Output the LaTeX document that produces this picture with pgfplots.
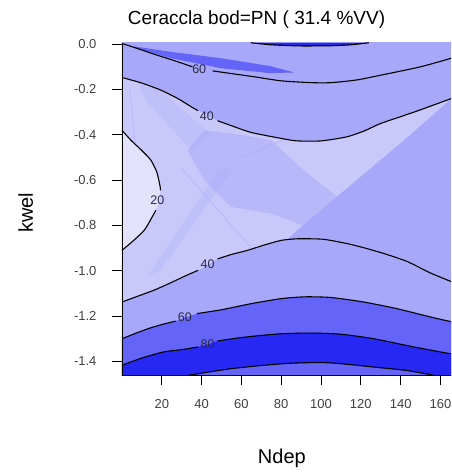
\documentclass[border=0pt]{standalone}
\usepackage{fontspec}
\setmainfont{Liberation Sans}
\usepackage{pgfplots}
\pgfplotsset{compat=1.18}

% fill colours of the contour bands
\definecolor{bandA}{RGB}{226,226,252} % < 20
\definecolor{bandB}{RGB}{200,200,250} % 20-40
\definecolor{bandC}{RGB}{168,168,250} % 40-60
\definecolor{bandD}{RGB}{100,100,248} % 60-80
\definecolor{bandE}{RGB}{40,40,245}   % 80-100
\definecolor{lblcol}{RGB}{40,40,70}

\begin{document}
\begin{tikzpicture}
\useasboundingbox (-122pt,-98pt) rectangle (329pt,375pt);
\begin{axis}[
  at={(0,0)}, anchor=south west,
  scale only axis, width=329pt, height=332pt,
  xmin=0, xmax=165.3, ymin=-1.46, ymax=0.005,
  enlargelimits=false,
  axis on top,
  axis x line*=bottom, axis y line*=left,
  axis line style={line width=0.8pt, black},
  tick align=outside, major tick length=10pt,
  tick style={line width=0.8pt, black},
  xtick={20,40,60,80,100,120,140,160},
  ytick={0,-0.2,-0.4,-0.6,-0.8,-1.0,-1.2,-1.4},
  /pgf/number format/assume math mode=true,
  yticklabel style={/pgf/number format/fixed, /pgf/number format/fixed zerofill, /pgf/number format/precision=1, xshift=-12pt},
  xticklabel style={yshift=-11pt},
  tick label style={font=\fontsize{13}{15}\selectfont, text=black!75},
  title={Ceraccla bod=PN ( 31.4 \%VV)},
  title style={font=\fontsize{19}{22}\selectfont, at={(axis description cs:0.409,1)}, anchor=base, yshift=12pt},
  xlabel={Ndep},
  xlabel style={font=\fontsize{20}{24}\selectfont, at={(axis description cs:0.486,0)}, anchor=base, yshift=-88pt},
  ylabel={kwel},
  ylabel style={font=\fontsize{20}{24}\selectfont, at={(axis description cs:0,0.489)}, anchor=base, yshift=89pt},
  contour line/.style={black, line width=1.1pt, smooth, tension=0.4},
]
% background band 40-60
\addplot[draw=none, fill=bandC] coordinates {(0,0.01) (166,0.01) (166,-1.47) (0,-1.47)} \closedcycle;

% band 20-40 (left part between the two 40 isolines)
\addplot[draw=none, fill=bandB] coordinates {
 (0,-0.147) (10,-0.172) (19.5,-0.203) (28,-0.24) (36,-0.283) (42,-0.31) (48,-0.338)
 (55,-0.36) (65,-0.39) (80,-0.416) (88,-0.427) (100,-0.427) (113,-0.409) (122,-0.382)
 (130,-0.35) (147,-0.299) (165.5,-0.24)
 (141.6,-0.424) (89.8,-0.807) (83,-0.862)
 (80,-0.866) (72,-0.885) (63,-0.91) (55,-0.928) (48,-0.948) (43,-0.976) (38.3,-0.998)
 (32,-1.022) (24,-1.055) (16,-1.086) (8,-1.112) (0,-1.138)} -- cycle;

% streaks inside the 20-40 band
\addplot[draw=none, fill=bandC, fill opacity=0.5] coordinates {
 (41.3,-0.38) (60,-0.40) (74.8,-0.424) (93.2,-0.571) (108.3,-0.674) (93.2,-0.807)
 (74.8,-0.747) (54.7,-0.718) (41.3,-0.60) (32.9,-0.468)} -- cycle;
\addplot[draw=none, fill=bandC, fill opacity=0.25] coordinates {
 (8,-0.17) (20,-0.21) (45,-0.40) (35,-0.47) (12,-0.25)} -- cycle;
\addplot[draw=none, fill=bandC, fill opacity=0.25] coordinates {
 (13,-1.02) (19,-1.0) (56,-0.55) (49,-0.55)} -- cycle;
\addplot[bandC, line width=0.8pt, opacity=0.5] coordinates {(4,-0.2) (10,-0.75)};
\addplot[bandC, line width=0.8pt, opacity=0.5] coordinates {(30,-0.55) (70,-0.95)};
\addplot[bandC, line width=0.8pt, opacity=0.5] coordinates {(60,-0.5) (95,-0.37)};

% band below 20
\addplot[draw=none, fill=bandA] coordinates {
 (0,-0.38) (4.5,-0.424) (10,-0.47) (14.5,-0.512) (17.5,-0.565) (19.2,-0.63) (19,-0.69)
 (17,-0.733) (15,-0.765) (11.3,-0.82) (6,-0.865) (0,-0.91)} -- cycle;

% bands 60-80 and above 100 at the bottom
\addplot[draw=none, fill=bandD] coordinates {
 (0,-1.30) (8,-1.272) (15,-1.25) (21,-1.235) (27,-1.222) (31.6,-1.207) (37.6,-1.189)
 (50,-1.172) (65,-1.145) (80,-1.123) (92,-1.115) (105,-1.118) (121.5,-1.138)
 (138,-1.167) (155,-1.204) (165.5,-1.225) (165.5,-1.47) (0,-1.47)} -- cycle;
% band 80-100
\addplot[draw=none, fill=bandE] coordinates {
 (0,-1.417) (10,-1.385) (21,-1.358) (30,-1.348) (38.3,-1.336) (43,-1.325) (48,-1.31)
 (58,-1.297) (68,-1.287) (80,-1.278) (95,-1.275) (110,-1.28) (126.5,-1.30)
 (146.5,-1.336) (165.5,-1.367) (165.5,-1.47) (157,-1.462) (143,-1.44) (126.5,-1.425)
 (110,-1.41) (100,-1.405) (85,-1.408) (70,-1.418) (55,-1.432) (45,-1.445) (33,-1.462)
 (0,-1.47)} -- cycle;

% upper wedge and cap
\addplot[draw=none, fill=bandD] coordinates {
 (6,-0.01) (24.5,-0.034) (49.6,-0.062) (74.5,-0.097) (86.5,-0.125) (74.5,-0.128)
 (49.6,-0.106) (24.5,-0.062) (6,-0.015)} -- cycle;
\addplot[draw=none, fill=bandE] coordinates {
 (64.7,0.006) (75,-0.003) (90,-0.008) (105,-0.007) (115,-0.003) (124,0.006)} -- cycle;

% isolines
\addplot[contour line] coordinates {(64.7,0.006) (75,-0.003) (90,-0.008) (105,-0.007) (115,-0.003) (124,0.006)};
\addplot[contour line] coordinates {(0,0.003) (8,-0.02) (16,-0.044) (26,-0.072) (35.4,-0.100)};
\addplot[contour line] coordinates {(45.5,-0.118) (55,-0.13) (66.4,-0.144) (80,-0.162) (95,-0.170) (105,-0.170) (118,-0.158) (130,-0.137) (150,-0.10) (165.5,-0.062)};
\addplot[contour line] coordinates {(0,-0.147) (10,-0.172) (19.5,-0.203) (28,-0.24) (36,-0.283) (38.2,-0.293)};
\addplot[contour line] coordinates {(48,-0.338) (55,-0.36) (65,-0.39) (80,-0.416) (88,-0.427) (100,-0.427) (113,-0.409) (122,-0.382) (130,-0.35) (147,-0.299) (165.5,-0.24)};
\addplot[contour line] coordinates {(0,-0.38) (4.5,-0.424) (10,-0.47) (14.5,-0.512) (17.5,-0.565) (19.2,-0.63) (19.3,-0.645)};
\addplot[contour line] coordinates {(17,-0.733) (15,-0.765) (11.3,-0.82) (6,-0.865) (0,-0.91)};
\addplot[contour line] coordinates {(0,-1.138) (8,-1.112) (16,-1.086) (24,-1.055) (32,-1.022) (38.3,-0.998)};
\addplot[contour line] coordinates {(48,-0.948) (55,-0.928) (63,-0.91) (72,-0.885) (80,-0.866) (88,-0.859) (101,-0.861) (113,-0.88) (123,-0.902) (133,-0.928) (143.5,-0.96) (155,-1.01) (165.5,-1.048)};
\addplot[contour line] coordinates {(0,-1.30) (8,-1.272) (15,-1.25) (21,-1.235) (27,-1.222)};
\addplot[contour line] coordinates {(37.6,-1.189) (50,-1.172) (65,-1.145) (80,-1.123) (92,-1.115) (105,-1.118) (121.5,-1.138) (138,-1.167) (155,-1.204) (165.5,-1.225)};
\addplot[contour line] coordinates {(0,-1.417) (10,-1.385) (21,-1.358) (30,-1.348) (38.3,-1.336)};
\addplot[contour line] coordinates {(48,-1.31) (58,-1.297) (68,-1.287) (80,-1.278) (95,-1.275) (110,-1.28) (126.5,-1.30) (146.5,-1.336) (165.5,-1.367)};
\addplot[contour line] coordinates {(33,-1.462) (45,-1.445) (55,-1.432) (70,-1.418) (85,-1.408) (100,-1.405) (110,-1.41) (126.5,-1.425) (143,-1.44) (157,-1.462)};

% isoline labels
\begin{scope}[every node/.style={font=\fontsize{12.5}{12.5}\selectfont, text=lblcol, inner sep=0pt}]
\node at (axis cs:38.8,-0.112) {60};
\node at (axis cs:42.6,-0.318) {40};
\node at (axis cs:17.8,-0.690) {20};
\node at (axis cs:43,-0.972) {40};
\node at (axis cs:31.6,-1.204) {60};
\node at (axis cs:43,-1.325) {80};
\end{scope}
\end{axis}
\end{tikzpicture}
\end{document}
